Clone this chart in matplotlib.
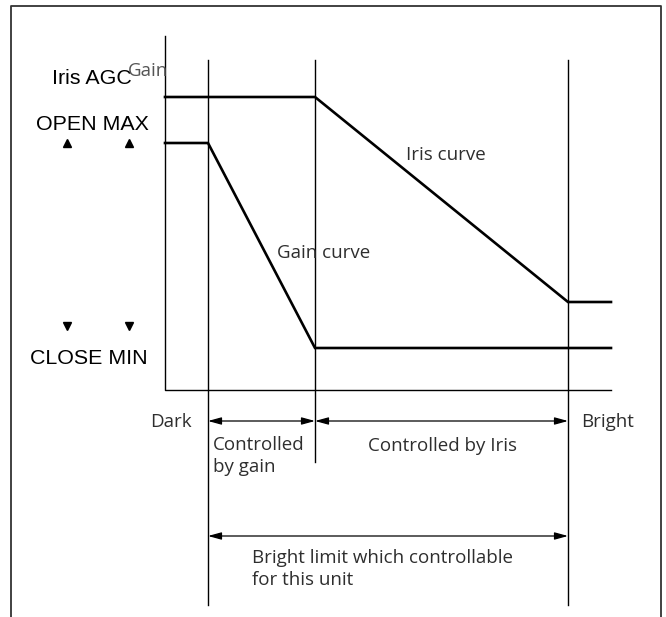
import matplotlib
matplotlib.use('Agg')
import matplotlib.pyplot as plt

# breakpoints of the two curves (brightness position, level), in picture units
iris_x = [165, 315, 568, 611]
iris_y = [97, 97, 302, 302]
gain_x = [165, 208, 315, 611]
gain_y = [143, 143, 348, 348]

# vertical boundary lines: x, top, bottom
bounds_x = [208, 315, 568]
bounds_top = [60, 60, 60]
bounds_bot = [605, 462, 605]

# range arrows: (start, end, y)
arrows = [(208, 315, 421), (315, 568, 421), (208, 568, 536)]

label_font = 'Open Sans'
label_col = '#2e2e2e'

fig = plt.figure(figsize=(6.66, 6.17), dpi=100)
ax = fig.add_axes([0, 0, 1, 1])
ax.set_xlim(0, 666)
ax.set_ylim(617, 0)
ax.axis('off')

# outer frame (open at the bottom)
ax.plot([11, 11, 661, 661], [617, 6, 6, 617], color='#333333', lw=1.3)

# axes of the diagram
ax.plot([165, 165, 611], [36, 390, 390], color='k', lw=1.0)

for x, t, b in zip(bounds_x, bounds_top, bounds_bot):
    ax.plot([x, x], [t, b], color='k', lw=1.0)

ax.plot(iris_x, iris_y, color='k', lw=1.9, solid_joinstyle='miter')
ax.plot(gain_x, gain_y, color='k', lw=1.9, solid_joinstyle='miter')

for x0, x1, y in arrows:
    ax.annotate('', xy=(x1, y), xytext=(x0, y),
                arrowprops=dict(arrowstyle='<|-|>,head_length=0.8,head_width=0.22',
                                color='k', lw=0.9, shrinkA=0, shrinkB=0))

# left labels
ax.text(52, 78, 'Iris AGC', family='Liberation Sans', fontsize=15.4, va='center', color='k')
ax.text(128, 71, 'Gain', family=label_font, fontsize=13.5, va='center', color='#555555')
ax.text(36, 125, 'OPEN MAX', family='Liberation Sans', fontsize=15.4, va='center', color='k')
ax.text(30, 359, 'CLOSE MIN', family='Liberation Sans', fontsize=15.4, va='center', color='k')
ax.plot([67, 129], [143, 143], ls='none', marker='^', ms=6, color='k')
ax.plot([67, 129], [326, 326], ls='none', marker='v', ms=6, color='k')

# curve and range labels
kw = dict(family=label_font, fontsize=13.5, color=label_col, va='center')
ax.text(406, 155, 'Iris curve', **kw)
ax.text(277, 253, 'Gain curve', **kw)
ax.text(150, 422, 'Dark', **kw)
ax.text(581, 422, 'Bright', **kw)
ax.text(442, 446, 'Controlled by Iris', ha='center', **kw)
ax.text(213, 456, 'Controlled\nby gain', linespacing=1.32, **kw)
ax.text(252, 569, 'Bright limit which controllable\nfor this unit', linespacing=1.32, **kw)

plt.savefig('out.png', dpi=100)
